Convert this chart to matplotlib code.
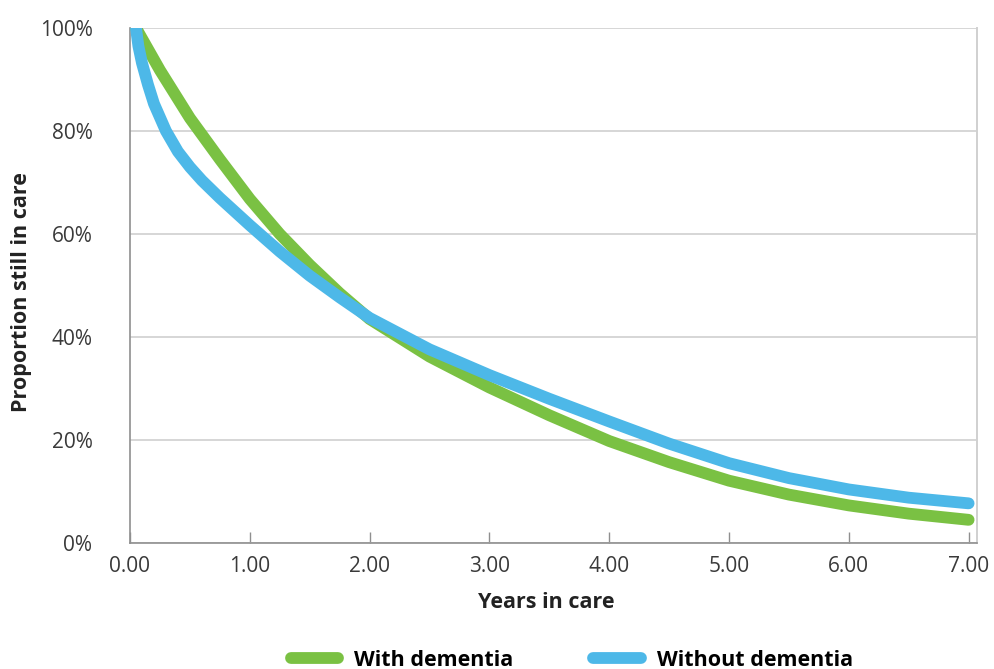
import matplotlib
matplotlib.use("Agg")
import matplotlib.pyplot as plt
from matplotlib.ticker import FuncFormatter, MultipleLocator

plt.rcParams['font.family'] = ['Open Sans', 'DejaVu Sans']

# --- data ---
years_with = [0.05, 0.25, 0.50, 0.75, 1.00, 1.25, 1.50, 1.75, 2.00, 2.50,
              3.00, 3.50, 4.00, 4.50, 5.00, 5.50, 6.00, 6.50, 7.00]
with_dementia = [1.000, 0.918, 0.825, 0.745, 0.668, 0.600, 0.540, 0.485, 0.435, 0.362,
                 0.302, 0.248, 0.198, 0.157, 0.121, 0.094, 0.073, 0.057, 0.045]

years_without = [0.05, 0.07, 0.10, 0.15, 0.20, 0.30, 0.40, 0.50, 0.60, 0.75, 1.00, 1.25, 1.50,
                 1.75, 2.00, 2.50, 3.00, 3.50, 4.00, 4.50, 5.00, 5.50, 6.00, 6.50, 7.00]
without_dementia = [1.000, 0.965, 0.932, 0.890, 0.853, 0.800, 0.760, 0.730, 0.704, 0.670, 0.617,
                    0.566, 0.519, 0.477, 0.437, 0.376, 0.326, 0.280, 0.236, 0.193, 0.155, 0.126,
                    0.104, 0.088, 0.077]

GREEN = '#7AC143'
BLUE = '#4DB8E8'

fig = plt.figure(figsize=(9.94, 6.69), dpi=100)
ax = fig.add_axes([130 / 994, 1 - 543 / 669, 847 / 994, 515 / 669])

ax.plot(years_with, with_dementia, color=GREEN, lw=8.5, solid_capstyle='round',
        solid_joinstyle='round', label='With dementia', zorder=3)
ax.plot(years_without, without_dementia, color=BLUE, lw=8.5, solid_capstyle='round',
        solid_joinstyle='round', label='Without dementia', zorder=4)

ax.set_xlim(0, 7.07)
ax.set_ylim(0, 1)
ax.xaxis.set_major_locator(MultipleLocator(1))
ax.yaxis.set_major_locator(MultipleLocator(0.2))
ax.xaxis.set_major_formatter(FuncFormatter(lambda v, p: f"{v:.2f}"))
ax.yaxis.set_major_formatter(FuncFormatter(lambda v, p: f"{v * 100:.0f}%"))

ax.grid(axis='y', color='#d6d6d6', lw=1.4, zorder=0)
ax.set_axisbelow(True)

ax.spines['top'].set_visible(False)
ax.spines['right'].set_color('#d0d0d0')
ax.spines['right'].set_linewidth(1.4)
ax.spines['left'].set_color('#8f8f8f')
ax.spines['bottom'].set_color('#8f8f8f')
ax.spines['left'].set_linewidth(1.2)
ax.spines['bottom'].set_linewidth(1.2)

ax.tick_params(axis='x', direction='in', length=8, width=1, color='#8f8f8f',
               labelsize=15, labelcolor='#3a3a3a', pad=9)
ax.tick_params(axis='y', length=0, labelsize=15, labelcolor='#3a3a3a', pad=27)

fig.text(22 / 994, 1 - 292 / 669, 'Proportion still in care', rotation=90,
         ha='center', va='center', fontsize=15.5, fontweight='bold', color='#222222')
fig.text(546 / 994, 1 - 603 / 669, 'Years in care', ha='center', va='center',
         fontsize=15.5, fontweight='bold', color='#222222')

fig.legend(loc='center', bbox_to_anchor=(572 / 994, 1 - 660 / 669), ncol=2,
           frameon=False, handlelength=2.2, handletextpad=0.75,
           columnspacing=3.7, prop={'weight': 'bold', 'size': 15.5})

fig.savefig('out.png', dpi=100, facecolor='white')
